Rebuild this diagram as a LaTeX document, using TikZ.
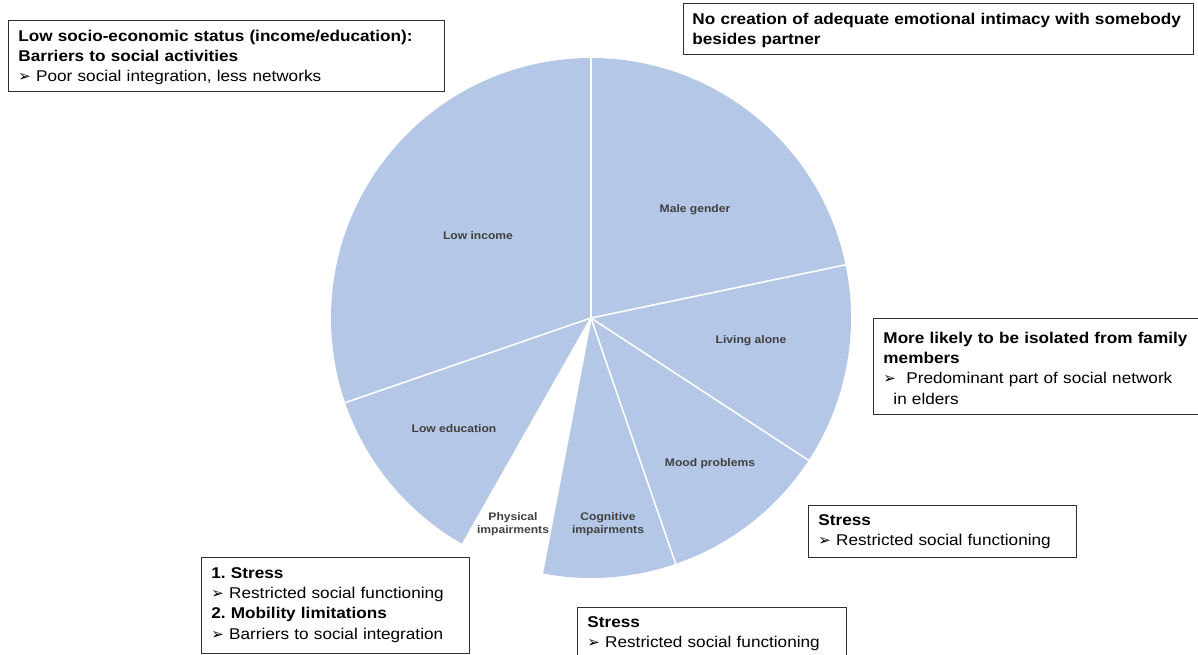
\documentclass[tikz,border=0pt]{standalone}
\usepackage{fontspec}
\setmainfont{Liberation Sans}[FakeStretch=1.1]
\newfontfamily\dv{DejaVu Sans}
\definecolor{pieblue}{HTML}{B4C7E7}
\definecolor{lbl}{HTML}{404040}
\definecolor{frame}{HTML}{303030}
\newcommand{\bul}{{\dv\fontsize{15}{15}\selectfont ➢}\ }
\newcommand{\fst}[1]{\rule{0pt}{#1pt}}
\newcommand{\lst}[1]{\rule[-#1pt]{0pt}{#1pt}}
\begin{document}
\begin{tikzpicture}[x=1pt,y=1pt,
  slice/.style={fill=pieblue},
  sep/.style={draw=white,line width=1.6pt},
  plabel/.style={text=lbl,font=\fontsize{11}{13}\selectfont\bfseries,align=center,inner sep=0pt},
  box/.style={draw=frame,line width=0.9pt,fill=white,anchor=north west,align=left,
    inner xsep=10pt,inner ysep=5pt,font=\fontsize{15.6}{20.2}\selectfont}
]
\useasboundingbox (0,0) rectangle (1198,654);
\coordinate (c) at (591,336);
% slices
\fill[slice] (c) -- ++(90:260pt) arc[start angle=90,end angle=199,radius=260pt] -- cycle;
\fill[slice] (c) -- ++(199:260pt) arc[start angle=199,end angle=240.4,radius=260pt] -- cycle;
\fill[slice] (c) -- ++(259.2:260pt) arc[start angle=259.2,end angle=289,radius=260pt] -- cycle;
\fill[slice] (c) -- ++(289:260pt) arc[start angle=289,end angle=326.8,radius=260pt] -- cycle;
\fill[slice] (c) -- ++(326.8:260pt) arc[start angle=326.8,end angle=371.8,radius=260pt] -- cycle;
\fill[slice] (c) -- ++(11.8:260pt) arc[start angle=11.8,end angle=90,radius=260pt] -- cycle;
\foreach \a in {90,199,240.4,259.2,289,326.8,11.8}
  \draw[sep] (c) -- ++(\a:261pt);
% slice labels
\node[plabel] (lmale) at (695,444) {Male gender};
\node[plabel] (linc) at (478,418) {Low income};
\node[plabel] (lliv) at (751,313) {Living alone};
\node[plabel] (ledu) at (454,225) {Low education};
\node[plabel] (lmood) at (710,190) {Mood problems};
\node[plabel] (lcog) at (608,130) {Cognitive\\impairments};
\node[plabel] (lphys) at (513,130) {Physical\\impairments};
% boxes
\node[box,text width=416pt] (b1) at (8,634)
 {\fst{16}\textbf{Low socio-economic status (income/education):}\\
  \textbf{Barriers to social activities}\\
  \bul Poor social integration, less networks\lst{5}};
\node[box,text width=492pt,inner xsep=9pt] (b2) at (683,651)
 {\fst{16}\textbf{No creation of adequate emotional intimacy with somebody}\\
  \textbf{besides partner}\lst{5}};
\node[box,text width=310pt] (b3) at (873,336)
 {\fst{20}\textbf{More likely to be isolated from family}\\
  \textbf{members}\\
  \bul\ Predominant part of social network\\
  \hspace*{10pt}in elders\lst{5}};
\node[box,text width=248pt] (b4) at (808,149)
 {\fst{15}\textbf{Stress}\\
  \bul Restricted social functioning\lst{7}};
\node[box,text width=248pt] (b5) at (201,97)
 {\fst{16}\textbf{1.\ Stress}\\
  \bul Restricted social functioning\\
  \textbf{2.\ Mobility limitations}\\
  \bul Barriers to social integration\lst{9}};
\node[box,text width=249pt] (b6) at (577,47)
 {\fst{15}\textbf{Stress}\\
  \bul Restricted social functioning\lst{14}};
\end{tikzpicture}
\end{document}
